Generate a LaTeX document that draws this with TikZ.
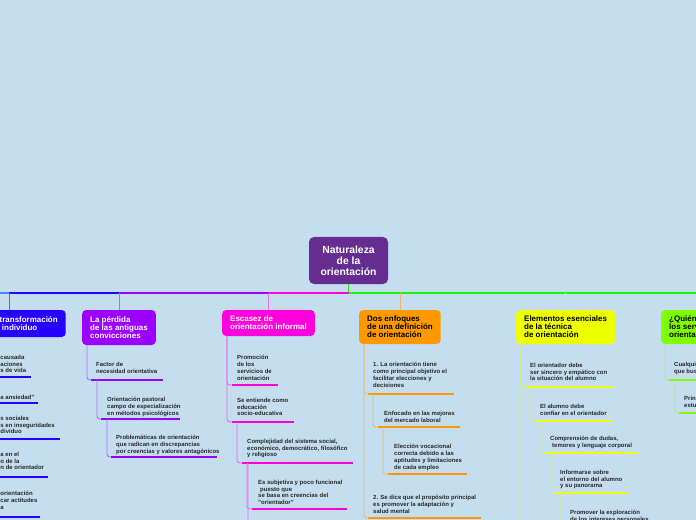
\documentclass[tikz,border=0pt]{standalone}
\usepackage{fontspec}
\setmainfont{Liberation Sans}
\definecolor{bgcol}{RGB}{196,222,240}
\definecolor{rootcol}{RGB}{102,45,145}
\definecolor{skycol}{RGB}{60,140,255}
\definecolor{bluecol}{RGB}{40,0,255}
\definecolor{purpcol}{RGB}{155,0,255}
\definecolor{magcol}{RGB}{255,0,221}
\definecolor{orcol}{RGB}{255,153,0}
\definecolor{yelcol}{RGB}{238,255,0}
\definecolor{grncol}{RGB}{128,255,0}
\definecolor{linegrn}{RGB}{30,245,0}
\definecolor{txtcol}{RGB}{40,40,40}
\def\rootfont{\fontsize{10.4}{11}\selectfont\bfseries}
\def\brfont{\fontsize{8}{8}\selectfont\bfseries}
\def\subfont{\fontsize{6}{7}\selectfont\bfseries}
\tikzset{
  root/.style={fill=rootcol,text=white,font=\rootfont,align=center,rounded corners=5bp,
    minimum width=79bp,minimum height=47bp,inner sep=0pt},
  branch/.style={anchor=west,rounded corners=4bp,font=\brfont,align=left,inner xsep=8bp,inner ysep=0pt},
  subtxt/.style={anchor=north west,font=\subfont,text=txtcol,align=left,inner sep=0pt},
  uline/.style={line width=2.8bp},
  hline/.style={line width=1.3bp},
  stem/.style={line width=0.9bp},
  scon/.style={line width=0.9bp,rounded corners=3bp},
}
% name, colour, underline start, underline length, text corner, text
\def\leaf#1#2#3#4#5#6{%
  \draw[uline,#2] #3 coordinate (#1) -- ++(#4,0);
  \node[subtxt] (#1t) at #5 {#6};
}

\begin{document}
\begin{tikzpicture}[x=1bp,y=-1bp]
  \useasboundingbox (0,0) rectangle (696,520);
  \clip (0,0) rectangle (696,520);
  \fill[bgcol] (0,0) rectangle (696,520);

  % ROOT
  \node[root] (root) at (348.5,260.5) {Naturaleza\\de la\\orientación};
  \coordinate (hub) at (348.5,293);
  \coordinate (west) at (0,293);
  \coordinate (east) at (696,293);

  % BRANCHES
  \node[branch,fill=bluecol,text=white,minimum height=27bp] (b1) at (-20,323.5) {La transformación\\del individuo};
  \coordinate (s1) at (9,310);
  \node[branch,fill=purpcol,text=white,minimum height=35bp] (b2) at (82,327.5) {La pérdida\\de las antiguas\\convicciones};
  \node[branch,fill=magcol,text=white,minimum height=26bp] (b3) at (222,323) {Escasez de\\orientación informal};
  \node[branch,fill=orcol,minimum height=34bp] (b4) at (359,327) {Dos enfoques\\de una definición\\de orientación};
  \node[branch,fill=yelcol,minimum height=34bp] (b5) at (516,327) {Elementos esenciales\\de la técnica\\de orientación};
  \node[branch,fill=grncol,minimum height=34bp] (b6) at (661,327) {¿Quién ofrece\\los servicios de\\orientación?};

  % TRUNK
  \draw[hline,linegrn] (root) -- (hub) -- (east);
  \draw[hline,skycol] (hub) -- (west);
  \draw[hline,bluecol] (hub) -- (hub -| s1);
  \draw[hline,purpcol] (hub) -- (hub -| b2);
  \draw[hline,magcol] (hub) -- (hub -| b3);
  \draw[stem,bluecol!60!bgcol] (hub -| s1) -- (s1);
  \foreach \b/\c in {b2/purpcol,b3/magcol,b4/orcol,b5/yelcol,b6/grncol}
    \draw[stem,\c!50!bgcol] (hub -| \b) -- (\b.north);

  % TOPICS: transformacion
  \leaf{a1}{bluecol}{(-11,377)}{42}{(0.3,354.5)}{causada\\aciones\\s de vida}
  \leaf{a2}{bluecol}{(-11,403)}{49}{(0.3,394.5)}{a ansiedad"}
  \leaf{a3}{bluecol}{(-11,439)}{71}{(0.3,415.5)}{s sociales\\s en inseguridades\\dividuo}
  \leaf{a4}{bluecol}{(-11,477)}{59}{(0.3,451.5)}{a en el\\o de la\\n de orientador}
  \leaf{a5}{bluecol}{(-11,517)}{51}{(0.3,490.5)}{orientación\\car actitudes\\a}
  \foreach \t in {a1,a2,a3,a4,a5}
    \draw[scon,bluecol!50!bgcol] ([xshift=5bp]b1.south west) |- (\t);

  % TOPICS: perdida
  \leaf{p1}{purpcol}{(91,380)}{72}{(96,361.5)}{Factor de\\necesidad orientativa}
  \leaf{p2}{purpcol}{(101,419)}{79}{(107,396.5)}{Orientación pastoral\\campo de especialización\\en métodos psicológicos}
  \leaf{p3}{purpcol}{(111,457)}{106}{(116,434.5)}{Problemáticas de orientación\\que radican en discrepancias\\por creencias y valores antagónicos}
  \draw[scon,purpcol!50!bgcol] ([xshift=5bp]b2.south west) |- (p1);
  \draw[scon,purpcol!50!bgcol] ([xshift=6bp]p1) |- (p2);
  \draw[scon,purpcol!50!bgcol] ([xshift=6bp]p2) |- (p3);

  % TOPICS: escasez
  \leaf{m1}{magcol}{(232,385)}{46}{(237,354.5)}{Promoción\\de los\\servicios de\\orientación}
  \leaf{m2}{magcol}{(232,422)}{62}{(237,397.5)}{Se entiende como\\educación\\socio-educativa}
  \leaf{m3}{magcol}{(242,463)}{111}{(247,438.5)}{Complejidad del sistema social,\\económico, democrático, filosófico\\y religioso}
  \leaf{m4}{magcol}{(252,509)}{95}{(258,479.5)}{Es subjetiva y poco funcional\\\hspace{2bp}puesto que\\se basa en creencias del\\"orientador"}
  \coordinate (m5) at (253,545);
  \draw[scon,magcol!50!bgcol] ([xshift=5bp]b3.south west) |- (m1);
  \draw[scon,magcol!50!bgcol] ([xshift=5bp]b3.south west) |- (m2);
  \draw[scon,magcol!50!bgcol] ([xshift=5bp]m2) |- (m3);
  \draw[scon,magcol!50!bgcol] ([xshift=5bp]m3) |- (m4);
  \draw[scon,magcol!50!bgcol] ([xshift=6bp]m3) |- (m5);

  % TOPICS: enfoques
  \leaf{o1}{orcol}{(368,394)}{86}{(373,361.5)}{1. La orientación tiene\\como principal objetivo el\\facilitar elecciones y\\decisiones}
  \leaf{o2}{orcol}{(378,427)}{82}{(384,410.5)}{Enfocado en las mejoras\\del mercado laboral}
  \leaf{o3}{orcol}{(388,474)}{79}{(394,443.5)}{Elección vocacional\\correcta debido a las\\aptitudes y limitaciones\\de cada empleo}
  \leaf{o4}{orcol}{(368,518)}{113}{(373,494.5)}{2. Se dice que el propósito principal\\es promover la adaptación y\\salud mental}
  \draw[scon,orcol!50!bgcol] ([xshift=5bp]b4.south west) |- (o1);
  \draw[scon,orcol!50!bgcol] ([xshift=5bp]o1) |- (o2);
  \draw[scon,orcol!50!bgcol] ([xshift=5bp]o2) |- (o3);
  \draw[scon,orcol!50!bgcol] ([xshift=5bp]b4.south west) |- (o4);

  % TOPICS: elementos
  \leaf{y1}{yelcol}{(525,387)}{89}{(530,362.5)}{El orientador debe\\ser sincero y empático con\\la situación del alumno}
  \leaf{y2}{yelcol}{(535,421)}{77}{(540,403.5)}{El alumno debe\\confiar en el orientador}
  \leaf{y3}{yelcol}{(545,453)}{92}{(550,435.5)}{Comprensión de dudas,\\\hspace{2bp}temores y lenguaje corporal}
  \leaf{y4}{yelcol}{(555,493)}{72}{(560,469.5)}{Informarse sobre\\el entorno del alumno\\y su panorama}
  \leaf{y5}{yelcol}{(565,534)}{110}{(570,509.5)}{Promover la exploración\\de los intereses personales}
  \coordinate (y6) at (530,545);
  \draw[scon,yelcol!50!bgcol] ([xshift=5bp]b5.south west) |- (y1);
  \draw[scon,yelcol!50!bgcol] ([xshift=5bp]b5.south west) |- (y6);
  \draw[scon,yelcol!50!bgcol] ([xshift=6bp]y1) |- (y2);
  \draw[scon,yelcol!50!bgcol] ([xshift=6bp]y2) |- (y3);
  \draw[scon,yelcol!50!bgcol] ([xshift=6bp]y3) |- (y4);
  \draw[scon,yelcol!50!bgcol] ([xshift=6bp]y4) |- (y5);

  % TOPICS: quien
  \leaf{g1}{grncol}{(669,380)}{100}{(674,361.5)}{Cualquier persona\\que busque ayuda}
  \leaf{g2}{grncol}{(679,413)}{100}{(684,395.5)}{Principalmente\\estudiantes}
  \draw[scon,grncol!50!bgcol] ([xshift=4bp]b6.south west) |- (g1);
  \draw[scon,grncol!50!bgcol] ([xshift=6bp]g1) |- (g2);

\end{tikzpicture}
\end{document}
